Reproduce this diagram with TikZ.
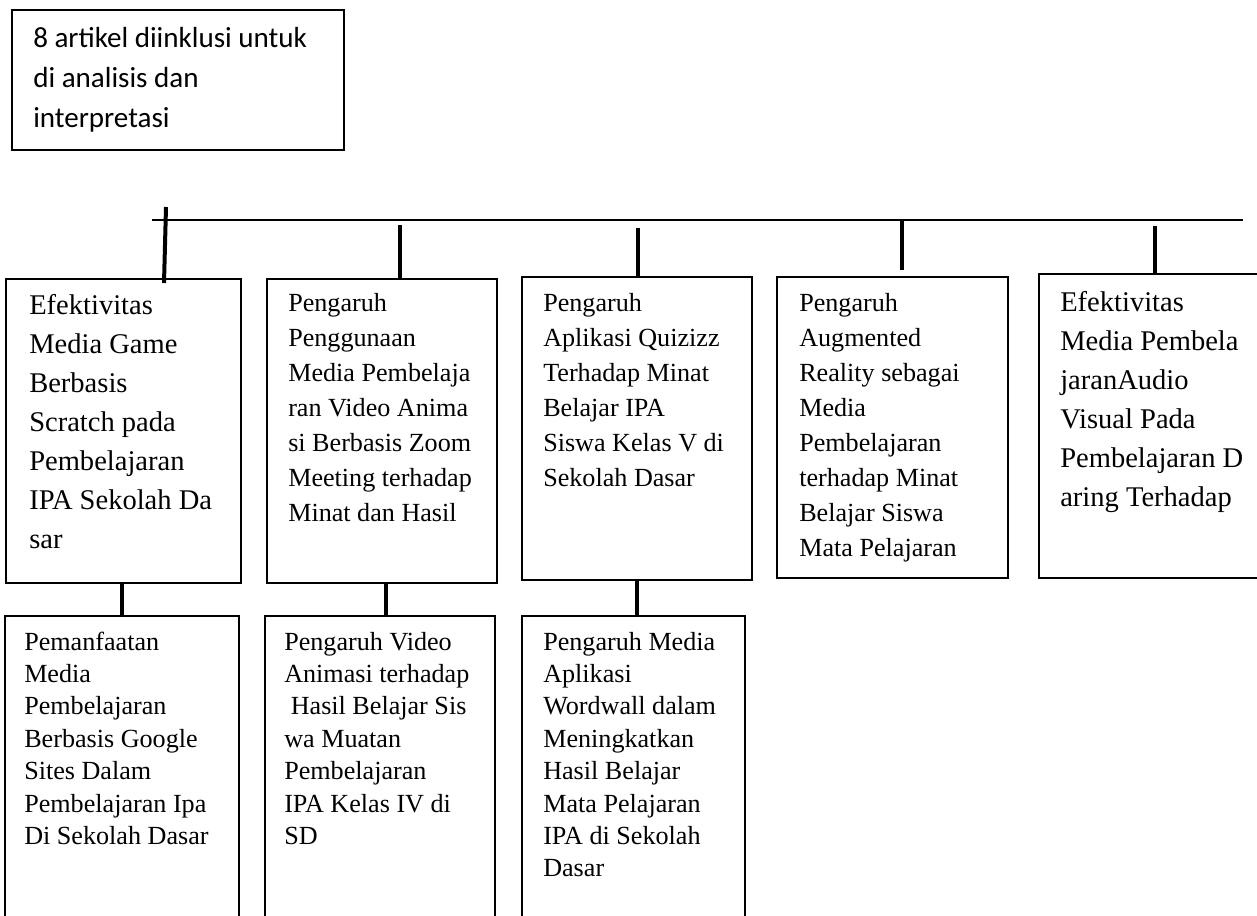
\documentclass[tikz,border=0pt]{standalone}
\usepackage{fontspec}
\setmainfont{Liberation Serif}
\newfontfamily\calibrifont{Carlito}
\usetikzlibrary{fit}
\tikzset{
  boxframe/.style={draw, line width=1.5pt, inner sep=0pt},
  conn/.style={line width=3pt},
  mainline/.style={line width=2.2pt},
  bigtxt/.style={inner sep=0pt, anchor=base west, font=\fontsize{21.4pt}{29.2pt}\selectfont},
  midtxt/.style={inner sep=0pt, anchor=base west, font=\fontsize{19.6pt}{26.2pt}\selectfont},
  lowtxt/.style={inner sep=0pt, anchor=base west, font=\fontsize{19.6pt}{24.3pt}\selectfont},
  toptxt/.style={inner sep=0pt, anchor=base west, font=\calibrifont\fontsize{21.8pt}{30pt}\selectfont}
}
\newcommand{\lines}[1]{\begin{tabular}[t]{@{}l@{}}#1\end{tabular}}
\begin{document}
\begin{tikzpicture}[x=0.75pt,y=-0.75pt]
\useasboundingbox (0,0) rectangle (1257,916);
% top box
\node[boxframe, fit={(12,10) (344,150)}] (top) {};
\node[toptxt] (toptext) at (33,48) {\lines{8 artikel diinklusi untuk\\di analisis dan\\interpretasi}};
% main line
\coordinate (L0) at (152,220);
\coordinate (L1) at (1243,220);
\draw[mainline] (L0) -- (L1);
% row 1 boxes
\node[boxframe, fit={(6,279) (241,583)}] (b1) {};
\node[boxframe, fit={(267,279) (497,583)}] (b2) {};
\node[boxframe, fit={(522,277) (752,580)}] (b3) {};
\node[boxframe, fit={(777,277) (1008,578)}] (b4) {};
\node[boxframe, fit={(1039,274) (1275,578)}] (b5) {};
% row 2 boxes (open at the bottom edge of the page)
\node[boxframe, fit={(5,616) (239,935)}] (b6) {};
\node[boxframe, fit={(265,616) (495,935)}] (b7) {};
\node[boxframe, fit={(522,616) (745,935)}] (b8) {};
% texts
\node[bigtxt] (t1) at (29,315) {\lines{Efektivitas\\Media Game\\Berbasis\\Scratch pada\\Pembelajaran\\IPA Sekolah Da\\sar}};
\node[midtxt] (t2) at (288,312) {\lines{Pengaruh\\Penggunaan\\Media Pembelaja\\ran Video Anima\\si Berbasis Zoom\\Meeting terhadap\\Minat dan Hasil}};
\node[midtxt] (t3) at (543,312) {\lines{Pengaruh\\Aplikasi Quizizz\\Terhadap Minat\\Belajar IPA\\Siswa Kelas V di\\Sekolah Dasar}};
\node[midtxt] (t4) at (799,312) {\lines{Pengaruh\\Augmented\\Reality sebagai\\Media\\Pembelajaran\\terhadap Minat\\Belajar Siswa\\Mata Pelajaran}};
\node[bigtxt] (t5) at (1060,312) {\lines{Efektivitas\\Media Pembela\\jaranAudio\\Visual Pada\\Pembelajaran D\\aring Terhadap}};
\node[lowtxt] (t6) at (24,650) {\lines{Pemanfaatan\\Media\\Pembelajaran\\Berbasis Google\\Sites Dalam\\Pembelajaran Ipa\\Di Sekolah Dasar}};
\node[lowtxt] (t7) at (284,650) {\lines{Pengaruh Video\\Animasi terhadap\\\ Hasil Belajar Sis\\wa Muatan\\Pembelajaran\\IPA Kelas IV di\\SD}};
\node[lowtxt] (t8) at (543,650) {\lines{Pengaruh Media\\Aplikasi\\Wordwall dalam\\Meningkatkan\\Hasil Belajar\\Mata Pelajaran\\IPA di Sekolah\\Dasar}};
% ticks from the main line
\coordinate (k1) at (166,207);
\coordinate (k1e) at (164,283);
\coordinate (k2) at (400,225);
\coordinate (k3) at (638,228);
\coordinate (k4) at (902,220);
\coordinate (k4e) at (902,270);
\coordinate (k5) at (1155,226);
\draw[conn] (k1) -- (k1e);
\draw[conn] (k2) -- (k2 |- b2.north);
\draw[conn] (k3) -- (k3 |- b3.north);
\draw[conn] (k4) -- (k4e);
\draw[conn] (k5) -- (k5 |- b5.north);
% connectors row 1 to row 2
\coordinate (c1) at (122,583);
\coordinate (c2) at (386,583);
\coordinate (c3) at (637,580);
\draw[conn] (c1) -- (c1 |- b6.north);
\draw[conn] (c2) -- (c2 |- b7.north);
\draw[conn] (c3) -- (c3 |- b8.north);
\end{tikzpicture}
\end{document}
